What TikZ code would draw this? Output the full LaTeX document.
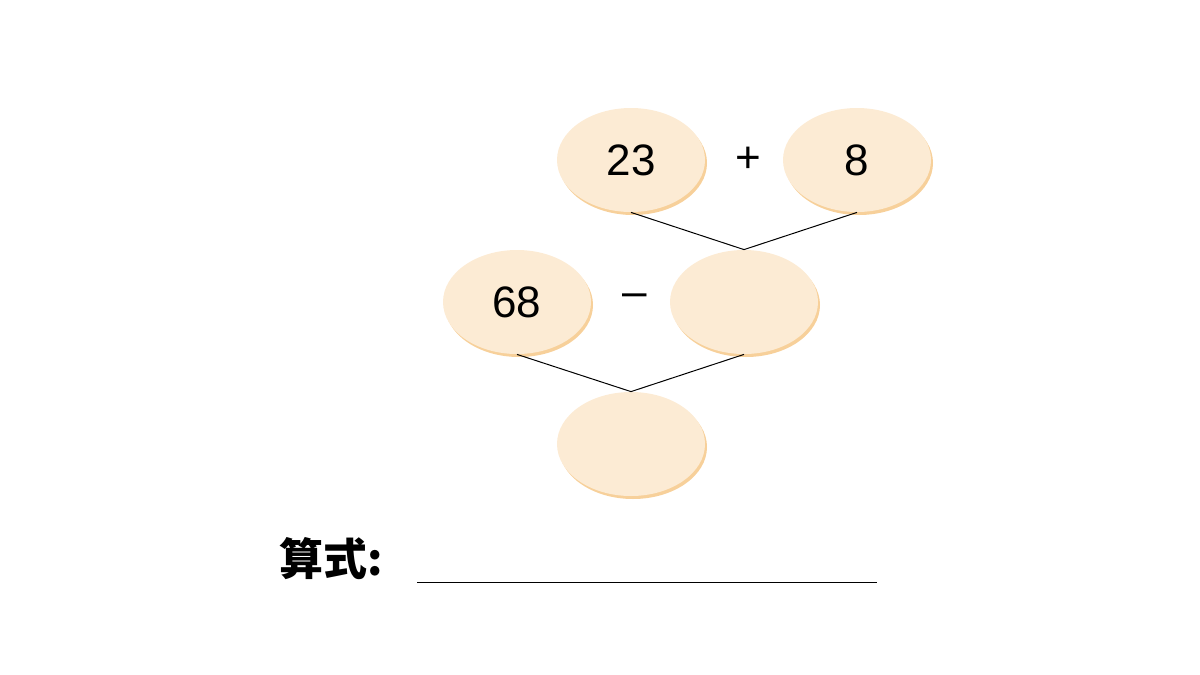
\documentclass[tikz,border=0pt]{standalone}
\usepackage{fontspec}
\setmainfont{Liberation Sans}
\newfontfamily\cjk{Noto Sans CJK SC}
\definecolor{eggfill}{HTML}{FCEBD4}
\definecolor{eggedge}{HTML}{F7D09A}
\tikzset{
  egg/.style={ellipse, minimum width=148*0.5pt, minimum height=104*0.5pt, inner sep=0pt, fill=eggfill, font=\fontsize{22}{22}\selectfont},
  eggshadow/.style={ellipse, minimum width=148*0.5pt, minimum height=104*0.5pt, inner sep=0pt, fill=eggedge},
  op/.style={font=\fontsize{22}{22}\selectfont},
  link/.style={black, line width=0.5pt}
}
\usetikzlibrary{shapes.geometric}
\begin{document}
\begin{tikzpicture}[x=0.5pt,y=-0.5pt]
\useasboundingbox (0,0) rectangle (1200,675);
\foreach \x/\y in {631/160,857/160,517/302,744/302,631/444}
  \node[eggshadow] at (\x+2,\y+3) {};
\node[egg] (a) at (631,160) {23};
\node[egg] (b) at (857,160) {8};
\node[op] (plus) at (748,160) {+};
\node[egg] (c) at (517,302) {68};
\node[egg] (d) at (744,302) {};
\node[op] (minus) at (635,300) {–};
\node[egg] (e) at (631,444) {};
\draw[link] (a.south) -- (d.north) -- (b.south);
\draw[link] (c.south) -- (e.north) -- (d.south);
\node[font=\cjk\bfseries\fontsize{22}{22}\selectfont, anchor=base west] (lbl) at (272,575) {算式:};
\coordinate (l1) at (417,582);
\coordinate (l2) at (877,582);
\draw[line width=0.5pt] (l1) -- (l2);
\end{tikzpicture}
\end{document}
